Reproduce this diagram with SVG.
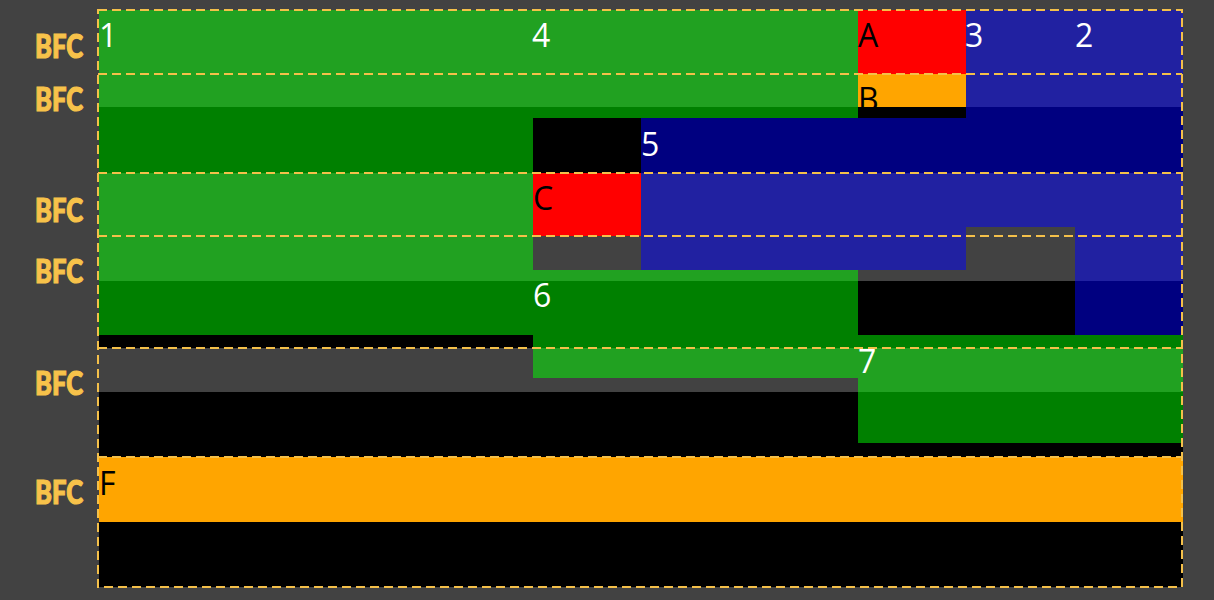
<svg xmlns="http://www.w3.org/2000/svg" width="1214" height="600" viewBox="0 0 1214 600">
  <style>
    .lg { fill: #21a121; }
    .dg { fill: #008000; }
    .rd { fill: #ff0000; }
    .or { fill: #ffa500; }
    .lb { fill: #2121a1; }
    .nv { fill: #000080; }
    .bk { fill: #000000; }
    .t { font-family: "Open Sans", "Noto Sans", sans-serif; font-size: 32px; }
    .tw { fill: #ffffff; }
    .tb { fill: #000000; }
    .bfc { font-family: Lato, "Liberation Sans", sans-serif; font-weight: 900; font-size: 32px; fill: #f7c24a; stroke: #f7c24a; stroke-width: 1.2; }
    .dash { fill: none; stroke: #f4c04a; stroke-width: 2; stroke-dasharray: 9 5; }
  </style>
  <rect x="0" y="0" width="1214" height="600" fill="#424242"/>

  <g id="containers">
    <rect class="bk" x="858" y="107" width="108" height="11"/>
    <rect class="bk" x="533" y="118" width="108" height="55"/>
    <rect class="bk" x="858" y="281" width="217" height="54"/>
    <rect class="bk" x="99" y="335" width="434" height="13"/>
    <rect class="bk" x="99" y="392" width="759" height="65"/>
    <rect class="bk" x="858" y="443" width="325" height="14"/>
    <rect class="bk" x="99" y="522" width="1084" height="65"/>
  </g>

  <g id="node-1">
    <rect class="lg" x="99" y="10" width="434" height="97"/>
    <rect class="dg" x="99" y="107" width="434" height="66"/>
    <rect class="lg" x="99" y="173" width="434" height="108"/>
    <rect class="dg" x="99" y="281" width="434" height="54"/>
    <text class="t tw" x="99" y="47">1</text>
  </g>

  <g id="node-4">
    <rect class="lg" x="533" y="10" width="325" height="97"/>
    <rect class="dg" x="533" y="107" width="325" height="11"/>
    <text class="t tw" x="532" y="47">4</text>
  </g>

  <g id="node-A">
    <rect class="rd" x="858" y="10" width="108" height="64"/>
    <text class="t tb" x="858" y="47">A</text>
  </g>

  <g id="node-B">
    <rect class="or" x="858" y="74" width="108" height="33"/>
    <text class="t tb" x="858" y="111">B</text>
    <rect class="bk" x="858" y="107" width="108" height="11"/>
  </g>

  <g id="node-3">
    <rect class="lb" x="966" y="10" width="109" height="97"/>
    <text class="t tw" x="965" y="47">3</text>
  </g>

  <g id="node-2">
    <rect class="lb" x="1075" y="10" width="108" height="97"/>
    <text class="t tw" x="1075" y="47">2</text>
  </g>

  <g id="node-5">
    <rect class="nv" x="966" y="107" width="217" height="11"/>
    <rect class="nv" x="641" y="118" width="542" height="55"/>
    <rect class="lb" x="641" y="173" width="325" height="97"/>
    <rect class="lb" x="966" y="173" width="109" height="54"/>
    <rect class="lb" x="1075" y="173" width="108" height="108"/>
    <rect class="nv" x="1075" y="281" width="108" height="54"/>
    <text class="t tw" x="641" y="156">5</text>
  </g>

  <g id="node-C">
    <rect class="rd" x="533" y="173" width="108" height="63"/>
    <text class="t tb" x="533" y="210">C</text>
  </g>

  <g id="node-6">
    <rect class="lg" x="533" y="270" width="325" height="11"/>
    <rect class="dg" x="533" y="281" width="325" height="67"/>
    <rect class="lg" x="533" y="348" width="325" height="30"/>
    <text class="t tw" x="533" y="307">6</text>
  </g>

  <g id="node-7">
    <rect class="dg" x="858" y="335" width="325" height="13"/>
    <rect class="lg" x="858" y="348" width="325" height="44"/>
    <rect class="dg" x="858" y="392" width="325" height="51"/>
    <text class="t tw" x="858" y="373">7</text>
  </g>

  <g id="node-F">
    <rect class="or" x="99" y="457" width="1084" height="65"/>
    <text class="t tb" x="99" y="495">F</text>
  </g>

  <g id="bfc-borders">
    <rect class="dash" x="98" y="10" width="1084" height="577"/>
    <line class="dash" x1="98" y1="74" x2="1182" y2="74"/>
    <line class="dash" x1="98" y1="173" x2="1182" y2="173"/>
    <line class="dash" x1="98" y1="236" x2="1182" y2="236"/>
    <line class="dash" x1="98" y1="348" x2="1182" y2="348"/>
    <line class="dash" x1="98" y1="457" x2="1182" y2="457"/>
  </g>

  <g id="bfc-labels">
    <text class="bfc" x="35" y="58" textLength="48" lengthAdjust="spacingAndGlyphs">BFC</text>
    <text class="bfc" x="35" y="111" textLength="48" lengthAdjust="spacingAndGlyphs">BFC</text>
    <text class="bfc" x="35" y="222" textLength="48" lengthAdjust="spacingAndGlyphs">BFC</text>
    <text class="bfc" x="35" y="283" textLength="48" lengthAdjust="spacingAndGlyphs">BFC</text>
    <text class="bfc" x="35" y="395" textLength="48" lengthAdjust="spacingAndGlyphs">BFC</text>
    <text class="bfc" x="35" y="504" textLength="48" lengthAdjust="spacingAndGlyphs">BFC</text>
  </g>
</svg>
